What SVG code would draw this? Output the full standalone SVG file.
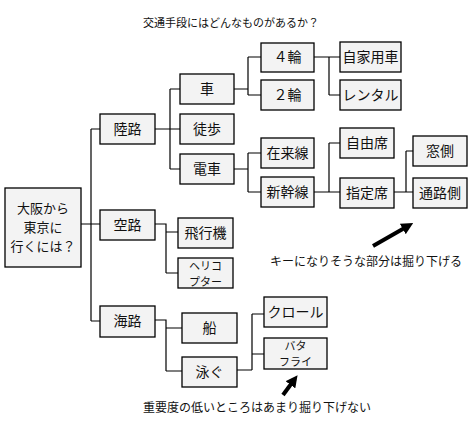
<svg xmlns="http://www.w3.org/2000/svg" width="473" height="428" viewBox="0 0 473 428">
<defs>
<style>
.box rect{fill:#f3f3f3;stroke:#000;stroke-width:1.3}
.box text,.cap{font-family:"Noto Sans CJK JP","Noto Sans",sans-serif;fill:#111}
.box text{font-size:14px;text-anchor:middle}
.box text.two{font-size:11px}
.box text.three{font-size:13px}
.cap{font-size:12px}
.conn path{fill:none;stroke:#000;stroke-width:1.2}
.arrow{stroke:#000;stroke-width:4;fill:none}
</style>
<marker id="ah" viewBox="0 0 10 10" refX="5" refY="5" markerWidth="3" markerHeight="3" orient="auto" markerUnits="strokeWidth">
<path d="M0,0 L10,5 L0,10 z" fill="#000"/>
</marker>
</defs>
<rect width="473" height="428" fill="#fff"/>
<text class="cap" x="143" y="27" style="font-size:11px">交通手段にはどんなものがあるか？</text>
<g class="conn">
<path d="M81,224H91M91,129V321M91,129H100M91,224H100M91,321H100"/>
<path d="M155,129H170M170,89V169M170,89H180M170,129H180M170,169H180"/>
<path d="M155,224H166V273M166,232H178M166,273H178"/>
<path d="M155,320H166V371M166,328H182M166,371H182"/>
<path d="M234,89H248M248,57V95M248,57H261M248,95H261"/>
<path d="M234,169H248M248,153V192M248,153H261M248,192H261"/>
<path d="M314,57H329M329,57V95M329,57H340M329,95H340"/>
<path d="M314,192H340M329,143V192M329,143H340"/>
<path d="M394,192H413M406,151V192M406,151H413"/>
<path d="M237,370H252M252,314V370M252,314H264M252,354H264"/>
</g>
<g id="root" class="box"><rect x="5" y="188" width="76" height="79"/><text class="three" x="43" y="213">大阪から<tspan x="43" dy="19">東京に</tspan><tspan x="43" dy="19">行くには？</tspan></text></g>
<g id="rikuro" class="box"><rect x="100" y="114" width="55" height="30"/><text x="127.5" y="134">陸路</text></g>
<g id="kuro" class="box"><rect x="100" y="210" width="55" height="30"/><text x="127.5" y="230">空路</text></g>
<g id="kairo" class="box"><rect x="100" y="306" width="55" height="31"/><text x="127.5" y="326">海路</text></g>
<g id="kuruma" class="box"><rect x="180" y="74" width="54" height="30"/><text x="207" y="94">車</text></g>
<g id="toho" class="box"><rect x="180" y="114" width="54" height="30"/><text x="207" y="134">徒歩</text></g>
<g id="densha" class="box"><rect x="180" y="154" width="54" height="30"/><text x="207" y="174">電車</text></g>
<g id="hikouki" class="box"><rect x="178" y="218" width="55" height="30"/><text x="205.5" y="238">飛行機</text></g>
<g id="heli" class="box"><rect x="178" y="258" width="55" height="30"/><text class="two" x="205.5" y="270">ヘリコ<tspan x="205.5" dy="16">プター</tspan></text></g>
<g id="fune" class="box"><rect x="182" y="313" width="55" height="30"/><text x="209.5" y="333">船</text></g>
<g id="oyogu" class="box"><rect x="182" y="357" width="55" height="30"/><text x="209.5" y="377">泳ぐ</text></g>
<g id="yonrin" class="box"><rect x="261" y="43" width="53" height="29"/><text x="287.5" y="62">４輪</text></g>
<g id="nirin" class="box"><rect x="261" y="80" width="53" height="30"/><text x="287.5" y="100">２輪</text></g>
<g id="zairaisen" class="box"><rect x="261" y="138" width="53" height="30"/><text x="287.5" y="158">在来線</text></g>
<g id="shinkansen" class="box"><rect x="261" y="177" width="53" height="30"/><text x="287.5" y="197">新幹線</text></g>
<g id="jikayousha" class="box"><rect x="340" y="42" width="61" height="30"/><text x="370.5" y="62">自家用車</text></g>
<g id="rental" class="box"><rect x="340" y="80" width="61" height="30"/><text x="370.5" y="100">レンタル</text></g>
<g id="jiyuuseki" class="box"><rect x="340" y="128" width="54" height="30"/><text x="367" y="148">自由席</text></g>
<g id="shiteiseki" class="box"><rect x="340" y="178" width="54" height="30"/><text x="367" y="198">指定席</text></g>
<g id="madogawa" class="box"><rect x="413" y="136" width="54" height="30"/><text x="440" y="156">窓側</text></g>
<g id="tsuurogawa" class="box"><rect x="413" y="178" width="54" height="30"/><text x="440" y="198">通路側</text></g>
<g id="crawl" class="box"><rect x="264" y="297" width="63" height="30"/><text x="295.5" y="317">クロール</text></g>
<g id="butterfly" class="box"><rect x="264" y="338" width="63" height="31"/><text class="two" x="295.5" y="350">バタ<tspan x="295.5" dy="16">フライ</tspan></text></g>
<line class="arrow" x1="373" y1="246" x2="408" y2="226" marker-end="url(#ah)"/>
<line class="arrow" x1="283" y1="395" x2="294" y2="380" marker-end="url(#ah)"/>
<text class="cap" x="270" y="266">キーになりそうな部分は掘り下げる</text>
<text class="cap" x="143" y="412">重要度の低いところはあまり掘り下げない</text>
</svg>
